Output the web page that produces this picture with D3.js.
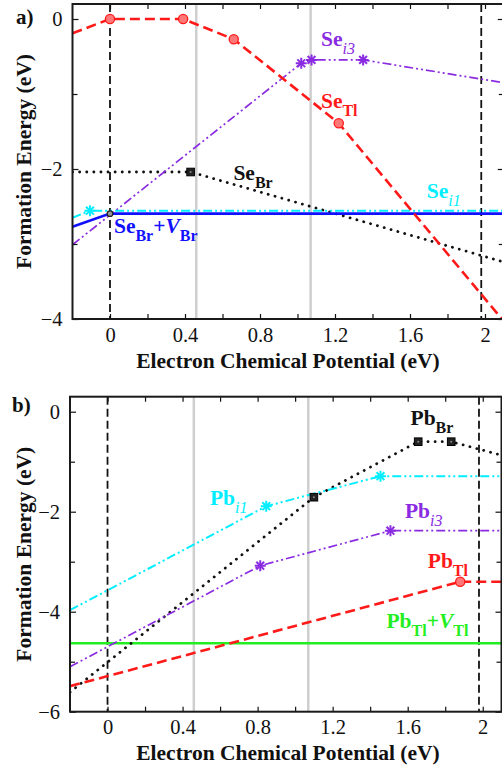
<!DOCTYPE html>
<html>
<head>
<meta charset="utf-8">
<script src="https://cdnjs.cloudflare.com/ajax/libs/d3/7.8.5/d3.min.js"></script>
<style>
  body { margin: 0; background: #fff; }
  svg { display: block; font-family: 'Liberation Serif', 'Times New Roman', serif; }
</style>
</head>
<body>
<svg id="chart" width="502" height="767"></svg>
<script>
// ---------- data ----------
const xMajor = [0, 0.4, 0.8, 1.2, 1.6, 2];
const xMinor = [0.2, 0.6, 1.0, 1.4, 1.8];
const yMajorA = [0, -2, -4];
const yMinorA = [-1, -3];
const yMajorB = [0, -2, -4, -6];
const yMinorB = [-1, -3, -5];
const dashedLines = [0, 1.98];
const grayLines = [0.46, 1.07];

// panel a: Se defects  [Fermi level, formation energy]
const seTl = [[-0.2, -0.19], [0, 0], [0.39, 0], [0.66, -0.27], [1.22, -1.39], [2.1, -4.03]];
const seTlMarks = [[0, 0], [0.39, 0], [0.66, -0.27], [1.22, -1.39]];
const seI3 = [[-0.2, -3.01], [1.02, -0.59], [1.075, -0.545], [1.35, -0.545], [2.1, -0.85]];
const seI3Marks = [[1.02, -0.59], [1.075, -0.545], [1.35, -0.545]];
const seBr = [[-0.2, -2.04], [0.43, -2.04], [2.1, -3.24]];
const seBrMarks = [[0.43, -2.04]];
const seI1 = [[-0.2, -2.65], [-0.107, -2.556], [2.1, -2.556]];
const seI1Marks = [[-0.107, -2.556]];
const seBrVBr = [[-0.2, -2.77], [0, -2.595], [2.1, -2.595]];
const seBrVBrMarks = [[0, -2.595]];

// panel b: Pb defects
const pbTl = [[-0.2, -5.49], [1.88, -3.4], [2.1, -3.4]];
const pbTlMarks = [[1.88, -3.4]];
const pbTlVTl = [[-0.2, -4.63], [2.1, -4.63]];
const pbBr = [[-0.2, -5.61], [1.10, -1.71], [1.656, -0.6], [1.832, -0.6], [2.1, -0.87]];
const pbBrMarks = [[1.10, -1.71], [1.656, -0.6], [1.832, -0.6]];
const pbI1 = [[-0.2, -3.97], [0.846, -1.89], [1.455, -1.29], [2.1, -1.29]];
const pbI1Marks = [[0.846, -1.89], [1.455, -1.29]];
const pbI3 = [[-0.2, -5.1], [0.814, -3.08], [1.508, -2.38], [2.1, -2.38]];
const pbI3Marks = [[0.814, -3.08], [1.508, -2.38]];

const colors = {
  red: '#ff1a1a', purple: '#8a2be2', black: '#111', cyan: '#00eeff',
  blue: '#1010ff', green: '#22ee22'
};

const styles = {
  dashed: {dash: '10,5', width: 2.6, cap: 'butt'},
  dotted: {dash: '0.1,7', width: 2.8, cap: 'round'},
  dashdotdot: {dash: '9,3,2,3,2,3', width: 1.7, cap: 'butt'},
  solid: {dash: null, width: 2.6, cap: 'butt'}
};

const panels = [
  {
    id: 'a', tag: 'a)', tagPos: [16, 24],
    xRange: [72.5, 503.75], yDomain: [-4, 0.2], yRange: [319, 4],
    yMajor: yMajorA, yMinor: yMinorA,
    series: [
      {data: seBr, marks: seBrMarks, color: colors.black, style: 'dotted', mark: 'square'},
      {data: seI3, marks: seI3Marks, color: colors.purple, style: 'dashdotdot', mark: 'star'},
      {data: seI1, marks: seI1Marks, color: colors.cyan, style: 'dashdotdot', mark: 'star', width: 2},
      {data: seBrVBr, marks: seBrVBrMarks, color: colors.blue, style: 'solid', mark: 'dot'},
      {data: seTl, marks: seTlMarks, color: colors.red, style: 'dashed', mark: 'circle'}
    ],
    labels: [
      {pos: [1.125, -0.36], color: colors.purple, parts: [['Se'], ['i3', 'isub']]},
      {pos: [1.125, -1.19], color: colors.red, parts: [['Se'], ['Tl', 'sub']]},
      {pos: [0.658, -2.147], color: colors.black, parts: [['Se'], ['Br', 'sub']]},
      {pos: [1.689, -2.387], color: colors.cyan, parts: [['Se'], ['i1', 'isub']]},
      {pos: [0.021, -2.857], color: colors.blue, parts: [['Se'], ['Br', 'sub'], ['+'], ['V', 'it'], ['Br', 'sub']]}
    ],
    tickPad: 8.5, xTitleY: 367.5, yTitleX: 31
  },
  {
    id: 'b', tag: 'b)', tagPos: [12, 412],
    xRange: [70, 501.5], yDomain: [-6, 0.3], yRange: [711.7, 396.7],
    yMajor: yMajorB, yMinor: yMinorB,
    series: [
      {data: pbTlVTl, marks: [], color: colors.green, style: 'solid'},
      {data: pbBr, marks: pbBrMarks, color: colors.black, style: 'dotted', mark: 'square'},
      {data: pbI1, marks: pbI1Marks, color: colors.cyan, style: 'dashdotdot', mark: 'star', width: 2},
      {data: pbI3, marks: pbI3Marks, color: colors.purple, style: 'dashdotdot', mark: 'star'},
      {data: pbTl, marks: pbTlMarks, color: colors.red, style: 'dashed', mark: 'circle'}
    ],
    labels: [
      {pos: [1.615, -0.266], color: colors.black, parts: [['Pb'], ['Br', 'sub']]},
      {pos: [0.546, -1.866], color: colors.cyan, parts: [['Pb'], ['i1', 'isub']]},
      {pos: [1.585, -2.132], color: colors.purple, parts: [['Pb'], ['i3', 'isub']]},
      {pos: [1.707, -3.126], color: colors.red, parts: [['Pb'], ['Tl', 'sub']]},
      {pos: [1.487, -4.332], color: colors.green, parts: [['Pb'], ['Tl', 'sub'], ['+'], ['V', 'it'], ['Tl', 'sub']]}
    ],
    tickPad: 8, xTitleY: 759.5, yTitleX: 31
  }
];

const svg = d3.select('#chart');
const serif = "'Liberation Serif', 'Times New Roman', serif";

function drawMark(g, type, x, y, color) {
  if (type === 'circle') {
    g.append('circle').attr('cx', x).attr('cy', y).attr('r', 4.6)
      .attr('fill', '#ff7777').attr('stroke', color).attr('stroke-width', 1.3);
  } else if (type === 'square') {
    g.append('rect').attr('x', x - 3.8).attr('y', y - 3.8).attr('width', 7.6).attr('height', 7.6)
      .attr('fill', '#222').attr('stroke', '#000').attr('stroke-width', 1);
    g.append('circle').attr('cx', x).attr('cy', y).attr('r', 1).attr('fill', '#888');
  } else if (type === 'star') {
    const r = 5.5;
    d3.range(4).forEach(i => {
      const a = i * Math.PI / 4;
      g.append('line')
        .attr('x1', x - r * Math.cos(a)).attr('y1', y - r * Math.sin(a))
        .attr('x2', x + r * Math.cos(a)).attr('y2', y + r * Math.sin(a))
        .attr('stroke', color).attr('stroke-width', 2);
    });
  } else if (type === 'dot') {
    g.append('circle').attr('cx', x).attr('cy', y).attr('r', 2.8)
      .attr('fill', '#999').attr('stroke', '#222').attr('stroke-width', 1.2);
  }
}

function drawPanel(p) {
  const x = d3.scaleLinear().domain([-0.2, 2.1]).range(p.xRange);
  const y = d3.scaleLinear().domain(p.yDomain).range(p.yRange);
  const [x0, x1] = p.xRange;
  const [yb, yt] = p.yRange;
  const g = svg.append('g').attr('class', 'panel-' + p.id);

  g.append('clipPath').attr('id', 'clip-' + p.id)
    .append('rect').attr('x', x0).attr('y', yt).attr('width', x1 - x0).attr('height', yb - yt);
  const plot = g.append('g').attr('clip-path', `url(#clip-${p.id})`);

  // gray reference lines
  plot.selectAll('.gray').data(grayLines).enter().append('line')
    .attr('x1', d => x(d)).attr('x2', d => x(d)).attr('y1', yt).attr('y2', yb)
    .attr('stroke', '#cfcfcf').attr('stroke-width', 2.5);

  // dashed band edges
  plot.selectAll('.edge').data(dashedLines).enter().append('line')
    .attr('x1', d => x(d)).attr('x2', d => x(d)).attr('y1', yt).attr('y2', yb)
    .attr('stroke', '#111').attr('stroke-width', 1.8).attr('stroke-dasharray', '8,4');

  const line = d3.line().x(d => x(d[0])).y(d => y(d[1]));

  p.series.forEach(s => {
    const st = styles[s.style];
    plot.append('path').datum(s.data)
      .attr('d', line)
      .attr('fill', 'none')
      .attr('stroke', s.color)
      .attr('stroke-width', s.width || st.width)
      .attr('stroke-linecap', st.cap)
      .attr('stroke-dasharray', st.dash);
  });
  p.series.forEach(s => {
    s.marks.forEach(m => drawMark(plot, s.mark, x(m[0]), y(m[1]), s.color));
  });

  // axes (inward ticks)
  const axisG = g.append('g').attr('class', 'axes');
  const fmt = d => d3.format('~g')(d);
  const tickStyle = sel => {
    sel.select('.domain').remove();
    sel.selectAll('line').attr('stroke', '#111').attr('stroke-width', 1.2);
    sel.selectAll('text').attr('fill', '#111').style('font-size', '20.5px')
      .style('font-family', serif);
  };
  axisG.append('g').attr('transform', `translate(0,${yb})`)
    .call(d3.axisBottom(x).tickValues(xMajor).tickSize(-5).tickPadding(p.tickPad).tickFormat(fmt)).call(tickStyle);
  axisG.append('g').attr('transform', `translate(0,${yb})`)
    .call(d3.axisBottom(x).tickValues(xMinor).tickSize(-5).tickFormat('')).call(tickStyle);
  axisG.append('g').attr('transform', `translate(0,${yt})`)
    .call(d3.axisTop(x).tickValues(xMajor.concat(xMinor)).tickSize(-5).tickFormat('')).call(tickStyle);
  axisG.append('g').attr('transform', `translate(${x0},0)`)
    .call(d3.axisLeft(y).tickValues(p.yMajor).tickSize(-6).tickPadding(10).tickFormat(fmt)).call(tickStyle);
  axisG.append('g').attr('transform', `translate(${x0},0)`)
    .call(d3.axisLeft(y).tickValues(p.yMinor).tickSize(-5).tickFormat('')).call(tickStyle);
  axisG.append('g').attr('transform', `translate(${x1},0)`)
    .call(d3.axisRight(y).tickValues(p.yMajor).tickSize(-6).tickFormat('')).call(tickStyle);
  axisG.append('g').attr('transform', `translate(${x1},0)`)
    .call(d3.axisRight(y).tickValues(p.yMinor).tickSize(-5).tickFormat('')).call(tickStyle);

  // frame
  g.append('rect').attr('x', x0).attr('y', yt).attr('width', x1 - x0).attr('height', yb - yt)
    .attr('fill', 'none').attr('stroke', '#1a1a1a').attr('stroke-width', 2);

  // labels
  p.labels.forEach(l => {
    const t = g.append('text').attr('x', x(l.pos[0])).attr('y', y(l.pos[1]))
      .attr('fill', l.color).style('font-size', '21.5px').style('font-weight', 'bold');
    let shifted = false;
    l.parts.forEach(([txt, kind]) => {
      const span = t.append('tspan').text(txt);
      const isSub = kind === 'sub' || kind === 'isub';
      if (isSub && !shifted) { span.attr('dy', 7.5); shifted = true; }
      if (!isSub && shifted) { span.attr('dy', -7.5); shifted = false; }
      if (isSub) span.style('font-size', '16px');
      if (kind === 'isub') span.style('font-style', 'italic').style('font-weight', 'normal');
      if (kind === 'it') span.style('font-style', 'italic');
    });
  });

  // titles
  g.append('text').attr('x', 288).attr('y', p.xTitleY).attr('text-anchor', 'middle')
    .style('font-size', '21.5px').style('font-weight', 'bold').attr('fill', '#111')
    .text('Electron Chemical Potential (eV)');
  g.append('text')
    .attr('transform', `translate(${p.yTitleX},${(yt + yb) / 2}) rotate(-90)`)
    .attr('text-anchor', 'middle')
    .style('font-size', '21.5px').style('font-weight', 'bold').attr('fill', '#111')
    .text('Formation Energy (eV)');
  g.append('text').attr('x', p.tagPos[0]).attr('y', p.tagPos[1])
    .style('font-size', '21px').style('font-weight', 'bold').attr('fill', '#111')
    .text(p.tag);
}

panels.forEach(drawPanel);
</script>
</body>
</html>
